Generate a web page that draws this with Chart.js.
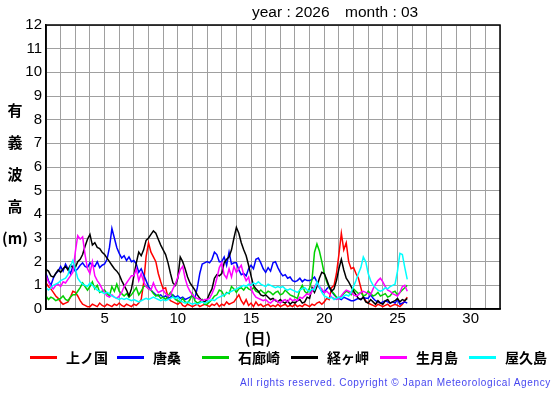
<!DOCTYPE html>
<html>
<head>
<meta charset="utf-8">
<script src="https://cdn.jsdelivr.net/npm/chart.js@4.4.1/dist/chart.umd.min.js"></script>
<style>
  body { margin: 0; background: #fff; }
  #wrap { position: relative; width: 555px; height: 395px; font-family: "Liberation Sans", Arial, sans-serif; color: #000; }
  #chart { position: absolute; left: 0; top: 0; }
  .title { position: absolute; top: 3px; font-size: 15.5px; white-space: pre; }
  .ylab { position: absolute; left: 0; width: 30px; text-align: center; font: bold 15px "Noto Sans CJK JP", sans-serif; line-height: 16px; }
  .xlab { position: absolute; left: 238px; top: 327px; width: 40px; text-align: center; font: bold 15px "Noto Sans CJK JP", sans-serif; }
  .leg { position: absolute; top: 349px; height: 16px; font: bold 14px "Noto Sans CJK JP", sans-serif; line-height: 16px; white-space: nowrap; }
  .leg i { position: absolute; left: 0; top: 7px; width: 27px; height: 3px; }
  .leg span { position: absolute; left: 36px; top: 0; }
  .copy { position: absolute; right: 4px; top: 377px; font-size: 10px; letter-spacing: 0.65px; color: #4646f0; white-space: nowrap; }
</style>
</head>
<body>
<div id="wrap">
  <canvas id="chart" width="555" height="395"></canvas>
  <div class="title" style="left:252px">year : 2026</div>
  <div class="title" style="left:345px">month : 03</div>
  <div id="ylabel"></div>
  <div class="xlab">(日)</div>
  <div id="legend"></div>
  <div class="copy">All rights reserved. Copyright © Japan Meteorological Agency</div>
</div>
<script>
// ==================== DATA ====================
// significant wave height (m), one value every 4 hours from day 1 00h
const firstDay = 1;
const stepDay = 1 / 6;

const kaminokuni = [
  1.1, 0.95, 0.85, 0.7, 0.55, 0.45,
  0.3, 0.2, 0.25, 0.3, 0.5, 0.75,
  0.7, 0.55, 0.35, 0.2, 0.15, 0.1,
  0.1, 0.2, 0.15, 0.1, 0.25, 0.15,
  0.1, 0.2, 0.15, 0.1, 0.2, 0.15,
  0.25, 0.15, 0.1, 0.2, 0.15, 0.1,
  0.2, 0.15, 0.25, 0.4, 1.1, 2.2,
  2.8, 2.4, 2.2, 2.0, 1.5, 1.15,
  0.85, 0.9, 0.5, 0.35, 0.3, 0.25,
  0.2, 0.3, 0.15, 0.1, 0.2, 0.15,
  0.1, 0.15, 0.2, 0.1, 0.15, 0.2,
  0.15, 0.1, 0.2, 0.15, 0.25, 0.1,
  0.2, 0.15, 0.3, 0.2, 0.25, 0.3,
  0.45, 0.6, 0.35, 0.2, 0.4, 0.15,
  0.25, 0.1, 0.3, 0.15, 0.2, 0.1,
  0.15, 0.2, 0.1, 0.15, 0.1, 0.2,
  0.1, 0.15, 0.2, 0.1, 0.15, 0.1,
  0.2, 0.1, 0.15, 0.1, 0.2, 0.15,
  0.1, 0.2, 0.15, 0.25, 0.3, 0.2,
  0.3, 0.45, 0.4, 0.9, 1.0, 1.5,
  2.3, 3.2, 2.5, 2.8, 2.0, 1.7,
  1.75, 1.5, 1.3, 0.9, 0.5, 0.35,
  0.25, 0.2, 0.15, 0.1, 0.2, 0.15,
  0.1, 0.15, 0.2, 0.1, 0.15, 0.2,
  0.15, 0.1, 0.2, 0.35, 0.5
];

const karakuwa = [
  1.5, 1.2, 1.0, 1.3, 1.5, 1.6,
  1.8, 1.6, 1.9, 1.7, 1.5, 1.8,
  1.6, 1.7, 1.85, 1.95, 1.8, 1.75,
  1.95, 1.85, 1.8, 2.0, 1.75, 1.85,
  1.9, 2.1, 2.6, 3.4, 3.0, 2.6,
  2.35, 2.15, 2.25, 2.05, 2.2, 2.0,
  2.05, 1.9, 1.55, 1.7, 1.45, 1.2,
  0.95, 0.8, 0.7, 0.6, 0.55, 0.6,
  0.5, 0.55, 0.45, 0.5, 0.6, 0.5,
  0.55, 0.45, 0.5, 0.4, 0.45, 0.5,
  0.55, 0.45, 0.9, 1.5, 1.9, 1.95,
  2.0, 1.95, 2.1, 2.4, 2.3, 2.0,
  2.0, 2.2, 1.85, 2.4, 1.9, 1.95,
  1.95, 1.65, 1.45, 1.5, 1.4, 1.7,
  1.85, 1.7, 2.1, 2.15, 1.95, 1.7,
  1.55, 1.75, 1.6, 1.95, 2.0, 1.75,
  1.55, 1.4, 1.45, 1.3, 1.35, 1.2,
  1.15, 1.2, 1.3, 1.15, 1.25, 1.2,
  1.2, 1.25, 1.35, 1.15, 0.9, 0.75,
  0.7, 0.85, 0.95, 0.75, 0.6, 0.5,
  0.45, 0.4, 0.5, 0.45, 0.4, 0.35,
  0.35, 0.4, 0.45, 0.4, 0.5, 0.45,
  0.45, 0.6, 0.45, 0.35, 0.3, 0.25,
  0.3, 0.35, 0.3, 0.25, 0.3, 0.25,
  0.4, 0.2, 0.25, 0.3, 0.25
];

const irozaki = [
  0.55, 0.4, 0.5, 0.45, 0.35, 0.4,
  0.45, 0.55, 0.4, 0.35, 0.5, 0.6,
  0.6, 0.75, 0.9, 1.1, 0.95, 0.8,
  0.95, 1.15, 0.85, 1.0, 0.7, 0.75,
  0.8, 0.65, 0.55, 0.95, 0.75, 1.05,
  0.75, 0.65, 0.55, 0.65, 0.5, 0.6,
  0.75, 0.9, 0.6, 0.75, 0.95, 1.0,
  0.85, 0.8, 0.65, 0.55, 0.6, 0.45,
  0.5, 0.4, 0.55, 0.7, 0.55, 0.4,
  0.35, 0.3, 0.45, 0.3, 0.25, 0.4,
  0.65, 0.35, 0.25, 0.3, 0.4, 0.2,
  0.2, 0.3, 0.4, 0.55, 0.6, 0.8,
  0.75, 0.55, 0.7, 0.65, 0.95, 0.85,
  0.7, 0.85, 0.9, 0.8, 0.95, 0.85,
  0.8, 0.9, 0.75, 0.7, 0.8, 0.7,
  0.65, 0.75, 0.7, 0.6, 0.7, 0.75,
  0.6, 0.65, 0.8, 0.7, 0.6, 0.55,
  0.5, 0.45, 0.8, 1.0, 0.75, 0.65,
  0.9, 1.25, 2.4, 2.75, 2.45, 2.0,
  1.5, 1.15, 0.9, 0.75, 0.65, 0.5,
  0.45, 0.55, 0.65, 0.75, 0.7, 0.6,
  0.85, 0.75, 0.65, 0.7, 0.55, 0.6,
  0.75, 0.65, 0.55, 0.6, 0.7, 0.55,
  0.6, 0.65, 0.5, 0.55, 0.7, 0.75,
  0.6, 0.7, 0.8, 0.9, 1.0
];

const kyogamisaki = [
  1.67, 1.6, 1.4, 1.35, 1.5, 1.65,
  1.55, 1.7, 1.8, 1.65, 1.85, 1.75,
  1.75, 2.0, 2.1, 2.3, 2.65, 2.95,
  3.15, 2.7, 2.8, 2.6, 2.55, 2.4,
  2.3, 2.15, 2.0, 1.85, 1.7, 1.6,
  1.45, 1.2, 1.0, 0.8, 0.55, 0.85,
  1.4, 1.95, 2.4, 2.25, 2.5, 2.9,
  3.0, 3.15, 3.3, 3.2, 2.95, 2.7,
  2.5, 2.3, 1.95, 1.5, 1.1, 1.0,
  1.3, 2.2, 2.0, 1.7, 1.35, 1.1,
  0.95, 0.8, 0.6, 0.45, 0.35, 0.3,
  0.4, 0.65, 0.85, 1.3, 1.45, 1.4,
  1.5, 1.95, 2.1, 2.2, 2.5, 3.0,
  3.45, 3.2, 2.8, 2.5, 2.25, 1.85,
  1.4, 1.0, 0.85, 0.75, 0.6, 0.55,
  0.6, 0.5, 0.4, 0.45, 0.35, 0.3,
  0.4, 0.3, 0.25, 0.35, 0.2, 0.3,
  0.25, 0.35, 0.4, 0.25, 0.3, 0.5,
  0.45, 0.9, 0.7, 0.95, 1.3, 1.55,
  1.5, 1.25, 0.95, 0.75, 0.85, 1.2,
  1.7, 2.1, 1.65, 1.3, 1.15, 0.95,
  0.75, 0.6, 0.45, 0.4, 0.5, 0.3,
  0.25, 0.4, 0.3, 0.2, 0.35, 0.25,
  0.2, 0.35, 0.4, 0.25, 0.3, 0.35,
  0.45, 0.3, 0.4, 0.35, 0.45
];

const ikitsukishima = [
  1.4, 1.15, 0.95, 0.85, 1.0, 1.05,
  0.95, 1.15, 1.1, 1.25, 1.4, 1.55,
  2.4, 3.1, 2.95, 3.05, 2.3, 1.7,
  1.5, 2.0, 1.4, 1.2, 1.05, 0.85,
  0.7, 0.55, 0.5, 0.6, 0.5, 0.45,
  0.55, 0.7, 0.95, 1.1, 1.25, 1.4,
  1.4, 1.7, 1.2, 1.5, 1.15, 0.95,
  0.85, 0.8, 1.1, 0.85, 0.7, 0.75,
  0.8, 0.65, 0.55, 0.6, 0.85, 1.05,
  1.35, 1.65, 1.8, 1.3, 0.95, 0.75,
  0.6, 0.5, 0.45, 0.4, 0.35, 0.4,
  0.4, 0.45, 0.65, 0.9, 1.3, 1.75,
  1.95, 1.45, 1.3, 1.7, 1.35, 1.8,
  1.55, 1.7, 1.85, 1.45, 1.2, 1.35,
  0.85, 0.65, 0.5, 0.45, 0.4, 0.35,
  0.4, 0.3, 0.25, 0.35, 0.4, 0.3,
  0.25, 0.35, 0.4, 0.3, 0.45, 0.35,
  0.4, 0.35, 0.5, 0.45, 0.55, 0.65,
  0.6, 0.75, 0.95, 1.1, 0.95, 0.85,
  0.7, 0.75, 0.65, 0.5, 0.45, 0.4,
  0.45, 0.55, 0.7, 0.8, 0.75, 0.7,
  0.6, 0.55, 0.6, 0.7, 0.75, 0.7,
  0.65, 0.6, 0.85, 1.05, 1.2, 1.3,
  1.15, 0.95, 0.8, 0.75, 0.65, 0.6,
  0.55, 0.7, 0.95, 1.0, 0.75
];

const yakushima = [
  0.9, 0.8, 0.9, 1.0, 1.05, 1.1,
  1.2, 1.25, 1.3, 1.45, 1.8, 2.05,
  1.7, 1.3, 1.15, 1.05, 1.0, 0.95,
  1.1, 1.0, 0.9, 0.8, 0.75, 0.7,
  0.65, 0.7, 0.65, 0.55, 0.5, 0.45,
  0.4, 0.45, 0.4, 0.45, 0.4, 0.35,
  0.4, 0.35, 0.3, 0.35, 0.4, 0.45,
  0.4, 0.45, 0.5, 0.45, 0.4, 0.35,
  0.4, 0.35, 0.4, 0.45, 0.5, 0.45,
  0.5, 0.35, 0.3, 0.25, 0.3, 0.25,
  0.2, 0.25, 0.2, 0.25, 0.3, 0.25,
  0.3, 0.35, 0.4, 0.35, 0.45, 0.5,
  0.55, 0.6, 0.65, 0.7, 0.75, 0.8,
  0.85, 0.9, 0.95, 1.0, 0.95, 1.05,
  1.0, 1.1, 1.05, 1.15, 1.05, 1.0,
  0.95, 1.05, 1.0, 0.95, 0.9, 0.95,
  0.9, 0.95, 0.85, 0.8, 0.85, 0.8,
  0.75, 0.7, 0.8, 0.85, 0.9, 0.8,
  0.75, 0.85, 0.8, 1.15, 0.95, 0.7,
  0.55, 0.5, 0.45, 0.5, 0.4, 0.45,
  0.5, 0.45, 0.55, 0.6, 0.55, 0.7,
  0.95, 1.2, 1.5, 1.75, 2.2, 2.0,
  1.5, 1.2, 1.0, 0.9, 0.8, 0.75,
  0.8, 0.9, 0.85, 0.95, 1.0, 1.05,
  1.6, 2.35, 2.3, 1.75, 1.25
];

const stationNames = ["上ノ国", "唐桑", "石廊崎", "経ヶ岬", "生月島", "屋久島"];
const stationColors = ["#ff0000", "#0000ff", "#00d000", "#000000", "#ff00ff", "#00ffff"];
const stationValues = [kaminokuni, karakuwa, irozaki, kyogamisaki, ikitsukishima, yakushima];

const xTickLabels = [5, 10, 15, 20, 25, 30];
const yTicks = [0, 1, 2, 3, 4, 5, 6, 7, 8, 9, 10, 11, 12];
const yLabelChars = ["有", "義", "波", "高", "(m)"];

// ==================== HTML TEXT ====================
const ylabelEl = document.getElementById("ylabel");
yLabelChars.forEach((ch, i) => {
  const d = document.createElement("div");
  d.className = "ylab";
  d.style.top = (102 + i * 32) + "px";
  d.textContent = ch;
  ylabelEl.appendChild(d);
});

const legendX = [30, 117, 202, 291, 380, 469];
const legendEl = document.getElementById("legend");
stationNames.forEach((name, i) => {
  const item = document.createElement("div");
  item.className = "leg";
  item.style.left = legendX[i] + "px";
  item.innerHTML = `<i style="background:${stationColors[i]}"></i><span>${name}</span>`;
  legendEl.appendChild(item);
});

// ==================== CHART ====================
const frame = {
  id: "frame",
  afterDraw(chart) {
    const { ctx, chartArea: a } = chart;
    ctx.save();
    ctx.strokeStyle = "#000";
    ctx.lineWidth = 1.5;
    ctx.strokeRect(a.left, a.top, a.right - a.left, a.bottom - a.top);
    ctx.restore();
  }
};

new Chart(document.getElementById("chart"), {
  type: "line",
  data: {
    datasets: stationValues.map((vals, k) => ({
      label: stationNames[k],
      data: vals.map((v, i) => ({ x: firstDay + i * stepDay, y: v })),
      borderColor: stationColors[k],
      borderWidth: 1.5,
      pointRadius: 0,
      tension: 0,
      order: stationValues.length - k
    }))
  },
  options: {
    responsive: false,
    animation: false,
    events: [],
    layout: { padding: { left: 0, top: 25, right: 55, bottom: 66 } },
    plugins: { legend: { display: false }, tooltip: { enabled: false } },
    scales: {
      x: {
        type: "linear",
        min: 1,
        max: 32,
        afterFit(s) { s.height = 20; },
        grid: { color: "#a0a0a0", lineWidth: 1, drawTicks: false },
        border: { color: "#000", width: 1.5 },
        ticks: {
          stepSize: 1,
          autoSkip: false,
          maxRotation: 0,
          padding: 1,
          color: "#000",
          font: { family: "Liberation Sans", size: 15 },
          callback: v => xTickLabels.includes(v) ? String(v) : ""
        }
      },
      y: {
        min: yTicks[0],
        max: yTicks[yTicks.length - 1],
        afterFit(s) { s.width = 46; },
        grid: { color: "#a0a0a0", lineWidth: 1, drawTicks: false },
        border: { color: "#000", width: 1.5 },
        ticks: {
          stepSize: 1,
          padding: 4,
          color: "#000",
          font: { family: "Liberation Sans", size: 15 }
        }
      }
    }
  },
  plugins: [frame]
});
</script>
</body>
</html>
